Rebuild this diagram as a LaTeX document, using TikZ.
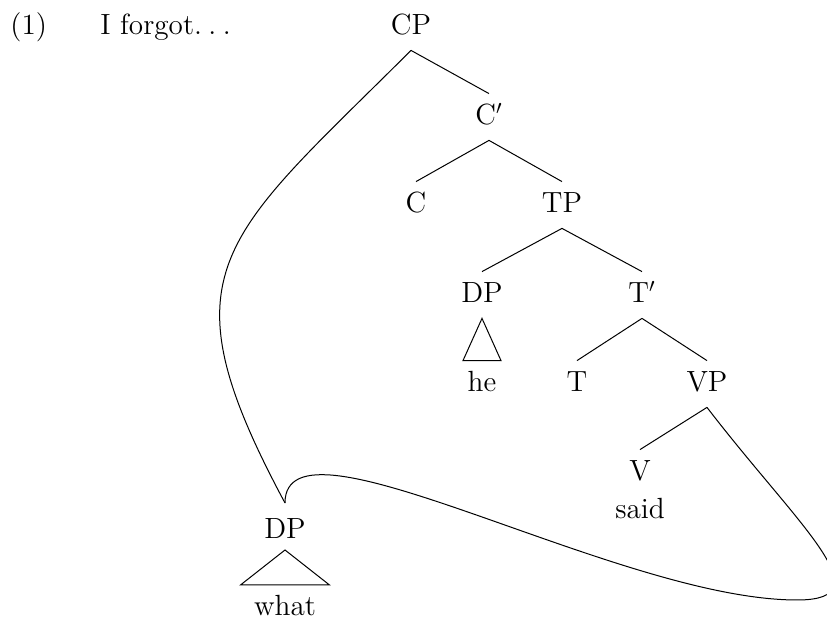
\documentclass[tikz,border=0pt]{standalone}
\usepackage{fontspec}
\usetikzlibrary{calc}
\tikzset{
  every node/.style={font=\fontsize{14.6pt}{17.5pt}\selectfont},
  tn/.style={inner sep=0pt, anchor=base, text height=15.5pt, text depth=7.5pt},
  lbl/.style={inner sep=0pt, anchor=base west},
  branch/.style={line width=0.5pt},
}
\begin{document}
\begin{tikzpicture}[x=0.5pt,y=-0.5pt]
\useasboundingbox (0,0) rectangle (827,619);
\node[lbl] (ex) at (10,35) {(1)};
\node[lbl] (forgot) at (100,35) {I forgot.\hspace{0.22em}.\hspace{0.22em}.};
\node[tn] (CP) at (411,35) {CP};
\node[tn] (Cbar) at (489,125) {C$'$};
\node[tn] (C) at (416,213) {C};
\node[tn] (TP) at (562,213) {TP};
\node[tn] (DPs) at (482,303) {DP};
\node[tn] (Tbar) at (642,303) {T$'$};
\node[tn] (he) at (482,392) {he};
\node[tn] (T) at (577,392) {T};
\node[tn] (VP) at (707,392) {VP};
\node[tn] (V) at (640,481) {V};
\node[tn] (said) at (640,519) {said};
\node[tn] (DPw) at (285,539) {DP};
\node[tn] (what) at (285,616) {what};
\coordinate (cusp) at ($(DPw.base)+(0,-36)$);
\coordinate (turn) at (797,600);
\draw[branch] (CP.south) -- (Cbar.north);
\draw[branch] (Cbar.south) -- (C.north);
\draw[branch] (Cbar.south) -- (TP.north);
\draw[branch] (TP.south) -- (DPs.north);
\draw[branch] (TP.south) -- (Tbar.north);
\draw[branch] (Tbar.south) -- (T.north);
\draw[branch] (Tbar.south) -- (VP.north);
\draw[branch] (VP.south) -- (V.north);
\draw[branch] (DPs.south) -- ($(he.north)+(-19,0)$) -- ($(he.north)+(19,0)$) -- cycle;
\draw[branch] ($(DPw.base)+(0,11)$) -- ($(what.base)+(-44.5,-31)$) -- ($(what.base)+(44.5,-31)$) -- cycle;
\draw[branch] (CP.south) .. controls (221,240) and (160,270) .. (cusp);
\draw[branch] (VP.south) .. controls (798,526) and (887,600) .. (turn)
  .. controls (617,600) and (285,403) .. (cusp);
\end{tikzpicture}
\end{document}
